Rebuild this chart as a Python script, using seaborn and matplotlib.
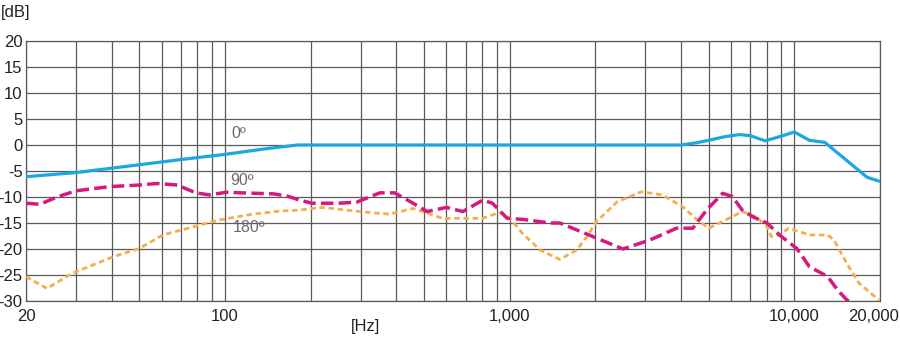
import numpy as np
import pandas as pd
import matplotlib
matplotlib.use("Agg")
import matplotlib.pyplot as plt
import matplotlib.transforms as mtransforms
import seaborn as sns

# ---- data ----
freq_0 = [20, 30, 50, 70, 100, 140, 180, 1000, 4000, 4500, 5000, 5700, 6400, 7000, 7900,
          9000, 10000, 11300, 12800, 15300, 18000, 20000]
db_0 = [-6.1, -5.3, -3.8, -2.8, -1.8, -0.7, 0.0, 0.0, 0.0, 0.4, 0.9, 1.6, 2.0, 1.8, 0.8,
        1.7, 2.5, 0.9, 0.5, -3.0, -6.2, -7.0]

freq_90 = [20, 22.4, 25.7, 30, 39.4, 50, 57.6, 68, 79, 88, 101, 148, 165, 183, 202, 250, 290,
           350, 394, 458, 513, 600, 685, 805, 870, 980, 1110, 1390, 1500, 1900, 2500, 3100,
           3860, 4400, 4920, 5600, 6050, 6560, 7140, 8020, 8870, 10200, 11300, 13100, 14200,
           15300, 17000]
db_90 = [-11.2, -11.4, -10.0, -8.8, -8.0, -7.7, -7.4, -7.7, -9.2, -9.6, -9.1, -9.4, -9.8,
         -10.6, -11.2, -11.2, -11.0, -9.2, -9.2, -11.2, -12.8, -12.0, -12.8, -10.6, -11.2,
         -14.1, -14.3, -15.0, -15.0, -17.3, -20.0, -18.3, -16.0, -16.0, -12.5, -9.3, -9.9,
         -12.5, -13.8, -15.0, -17.3, -19.9, -23.4, -25.3, -27.9, -29.8, -31.0]

freq_180 = [20, 23.7, 29, 40.4, 50, 60.5, 79, 96, 125, 156, 183, 220, 298, 378, 458, 582, 805,
            850, 926, 1000, 1110, 1280, 1500, 1720, 1870, 2020, 2390, 2900, 3440, 4060, 4560,
            5000, 5600, 6560, 7330, 8020, 8300, 8870, 9550, 11300, 13100, 13800, 15300, 16900,
            20000]
db_180 = [-25.3, -27.6, -24.7, -21.5, -19.9, -17.3, -15.6, -14.4, -13.3, -12.7, -12.5, -12.0,
          -12.8, -13.3, -12.2, -14.1, -14.1, -13.6, -13.0, -14.0, -17.0, -20.2, -22.0, -20.2,
          -17.6, -14.7, -10.9, -9.0, -9.6, -11.9, -14.4, -16.0, -14.7, -12.8, -13.8, -15.7,
          -17.6, -17.3, -16.0, -17.3, -17.3, -18.3, -22.8, -26.6, -30.0]

series_labels = ["0º", "90º", "180º"]
x_ticks = [20, 100, 1000, 10000, 20000]
x_tick_labels = ["20", "100", "1,000", "10,000", "20,000"]
y_ticks = list(range(-30, 21, 5))

# ---- style ----
sns.set_style("white")
plt.rcParams["font.family"] = ["Liberation Sans Narrow", "Liberation Sans", "DejaVu Sans"]
plt.rcParams["axes.unicode_minus"] = False

fig = plt.figure(figsize=(9, 3.38), dpi=100)
ax = fig.add_axes([26 / 900, 1 - 301 / 338, (880 - 26) / 900, (301 - 41) / 338])

grid_c = "#5a5a5a"
blue = "#1ea6e0"
magenta = "#d6187f"
orange = "#f5ae4a"

df0 = pd.DataFrame({"f": freq_0, "db": db_0})
df90 = pd.DataFrame({"f": freq_90, "db": db_90})
df180 = pd.DataFrame({"f": freq_180, "db": db_180})

sns.lineplot(data=df180, x="f", y="db", ax=ax, color=orange, lw=2.0, sort=False)
sns.lineplot(data=df90, x="f", y="db", ax=ax, color=magenta, lw=2.5, sort=False)
sns.lineplot(data=df0, x="f", y="db", ax=ax, color=blue, lw=2.3, sort=False)
lines = ax.get_lines()
lines[0].set_dashes([2.0, 1.3])
lines[1].set_dashes([3.6, 1.5])
for ln in lines:
    ln.set_solid_capstyle("round")
    ln.set_dash_capstyle("butt")
    ln.set_solid_joinstyle("round")
    ln.set_dash_joinstyle("round")
    ln.set_zorder(3)

ax.set_xscale("log")
ax.set_xlim(20, 20000)
ax.set_ylim(-30, 20)

minor = []
for dec in [10, 100, 1000, 10000]:
    for m in range(2, 10):
        v = dec * m
        if 20 < v < 20000:
            minor.append(v)
ax.set_xticks(x_ticks)
ax.set_xticklabels(x_tick_labels)
ax.set_xticks(minor, minor=True)
ax.set_xticklabels([], minor=True)
ax.set_yticks(y_ticks)
ax.set_yticklabels([str(v) for v in y_ticks])

ax.grid(True, which="both", axis="x", color=grid_c, lw=0.9)
ax.grid(True, which="major", axis="y", color=grid_c, lw=0.9)
ax.tick_params(axis="both", which="both", length=0, labelsize=12, colors="#222222")
ax.tick_params(axis="x", pad=6)
ax.tick_params(axis="y", pad=2.5)
# keep the last x label inside the figure
last = ax.get_xticklabels()[-1]
last.set_transform(last.get_transform() + mtransforms.ScaledTranslation(-6 / 100, 0, fig.dpi_scale_trans))
for s in ax.spines.values():
    s.set_color(grid_c)
    s.set_linewidth(0.9)
ax.set_xlabel("")
ax.set_ylabel("")

# curve labels
lab_kw = dict(color="#6a6a6a", fontsize=11.5, ha="center", va="bottom")
ax.text(112, 0.8, series_labels[0], **lab_kw)
ax.text(115, -8.2, series_labels[1], **lab_kw)
ax.text(122, -17.4, series_labels[2], **lab_kw)

fig.text(1 / 900, 1 - 12 / 338, "[dB]", fontsize=12, color="#222222", ha="left", va="center")
fig.text(365 / 900, 1 - 327 / 338, "[Hz]", fontsize=12, color="#222222", ha="center", va="center")

fig.savefig("out.png", dpi=100, facecolor="white")
